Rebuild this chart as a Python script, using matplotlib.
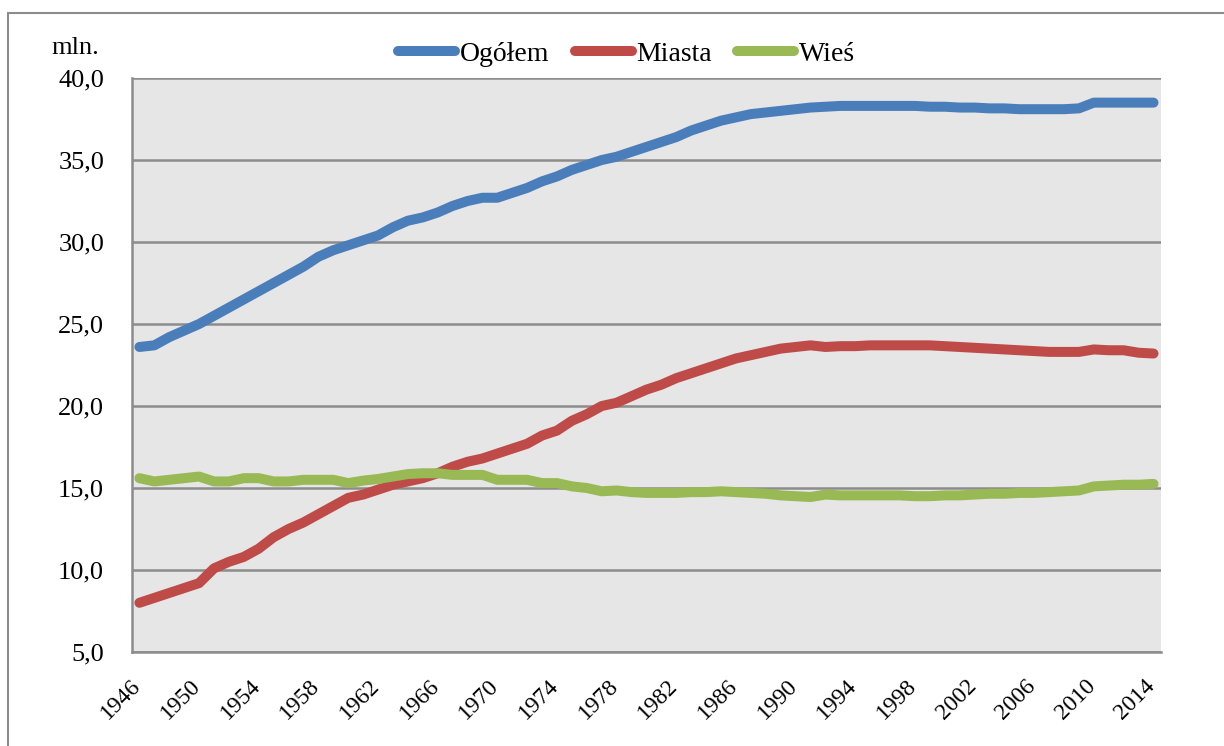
import matplotlib
matplotlib.use("Agg")
import matplotlib.pyplot as plt
from matplotlib.patches import Rectangle
from matplotlib.transforms import ScaledTranslation

plt.rcParams['font.family'] = ['Liberation Serif', 'DejaVu Serif']

lata = list(range(1946, 2015))

ogolem = [23.6, 23.7, 24.2, 24.6, 25.0, 25.5, 26.0, 26.5, 27.0, 27.5,
          28.0, 28.5, 29.1, 29.5, 29.8, 30.1, 30.4, 30.9, 31.3, 31.5,
          31.8, 32.2, 32.5, 32.7, 32.7, 33.0, 33.3, 33.7, 34.0, 34.4,
          34.7, 35.0, 35.2, 35.5, 35.8, 36.1, 36.4, 36.8, 37.1, 37.4,
          37.6, 37.8, 37.9, 38.0, 38.1, 38.2, 38.25, 38.3, 38.3, 38.3,
          38.3, 38.3, 38.3, 38.25, 38.25, 38.2, 38.2, 38.15, 38.15, 38.1,
          38.1, 38.1, 38.1, 38.15, 38.5, 38.5, 38.5, 38.5, 38.5]

miasta = [8.0, 8.3, 8.6, 8.9, 9.2, 10.1, 10.5, 10.8, 11.3, 12.0,
          12.5, 12.9, 13.4, 13.9, 14.4, 14.6, 14.9, 15.2, 15.4, 15.6,
          15.9, 16.3, 16.6, 16.8, 17.1, 17.4, 17.7, 18.2, 18.5, 19.1,
          19.5, 20.0, 20.2, 20.6, 21.0, 21.3, 21.7, 22.0, 22.3, 22.6,
          22.9, 23.1, 23.3, 23.5, 23.6, 23.7, 23.6, 23.65, 23.65, 23.7,
          23.7, 23.7, 23.7, 23.7, 23.65, 23.6, 23.55, 23.5, 23.45, 23.4,
          23.35, 23.3, 23.3, 23.3, 23.45, 23.4, 23.4, 23.25, 23.2]

wies = [15.6, 15.4, 15.5, 15.6, 15.7, 15.4, 15.4, 15.6, 15.6, 15.4,
        15.4, 15.5, 15.5, 15.5, 15.3, 15.45, 15.55, 15.7, 15.85, 15.9,
        15.9, 15.8, 15.8, 15.8, 15.5, 15.5, 15.5, 15.3, 15.3, 15.1,
        15.0, 14.8, 14.85, 14.75, 14.7, 14.7, 14.7, 14.75, 14.75, 14.8,
        14.75, 14.7, 14.65, 14.55, 14.5, 14.45, 14.6, 14.55, 14.55, 14.55,
        14.55, 14.55, 14.5, 14.5, 14.55, 14.55, 14.6, 14.65, 14.65, 14.7,
        14.7, 14.75, 14.8, 14.85, 15.1, 15.15, 15.2, 15.2, 15.25]

fig = plt.figure(figsize=(12.24, 7.46), dpi=100)
ax = fig.add_axes([0.1078, 0.126, 0.8407, 0.7694])
ax.set_facecolor('#e6e6e6')

lw = 7.2
ax.plot(lata, ogolem, color='#4a7ebb', lw=lw, solid_capstyle='round', solid_joinstyle='round', label='Ogółem')
ax.plot(lata, miasta, color='#be4b48', lw=lw, solid_capstyle='round', solid_joinstyle='round', label='Miasta')
ax.plot(lata, wies, color='#98b954', lw=lw, solid_capstyle='round', solid_joinstyle='round', label='Wieś')

ax.set_xlim(1945.5, 2014.5)
ax.set_ylim(5, 40)
yt = [5, 10, 15, 20, 25, 30, 35, 40]
ax.set_yticks(yt)
ax.set_yticklabels([f"{v:.1f}".replace('.', ',') for v in yt], fontsize=19)
ax.set_xticks(lata[::4])
ax.set_xticklabels([str(r) for r in lata[::4]], rotation=45, ha='right', va='top',
                   rotation_mode='anchor', fontsize=17)
ax.tick_params(axis='both', length=0)
ax.tick_params(axis='y', pad=20)
ax.tick_params(axis='x', pad=17)

# przesuniecie etykiet lat nieco w lewo
przes = ScaledTranslation(-0.09, 0, fig.dpi_scale_trans)
for lab in ax.get_xticklabels():
    lab.set_transform(lab.get_transform() + przes)

ax.yaxis.grid(True, color='#8c8c8c', lw=1.8)
ax.set_axisbelow(True)
for s in ['top', 'right']:
    ax.spines[s].set_visible(False)
for s in ['left', 'bottom']:
    ax.spines[s].set_color('#8c8c8c')
    ax.spines[s].set_linewidth(1.8)

fig.text(0.042, 0.935, 'mln.', fontsize=19, va='center')

fig.legend(loc='center', bbox_to_anchor=(0.512, 0.927), ncol=3, frameon=False,
           fontsize=20, handlelength=2.05, handletextpad=0.18, columnspacing=0.9)

# ramka wokol calego wykresu
fig.patches.append(Rectangle((8 / 1224, -0.05), 1.1, 1.05 - 13 / 746,
                             transform=fig.transFigure, fill=False,
                             edgecolor='#8c8c8c', lw=1.5))

fig.savefig('out.png', dpi=100)
